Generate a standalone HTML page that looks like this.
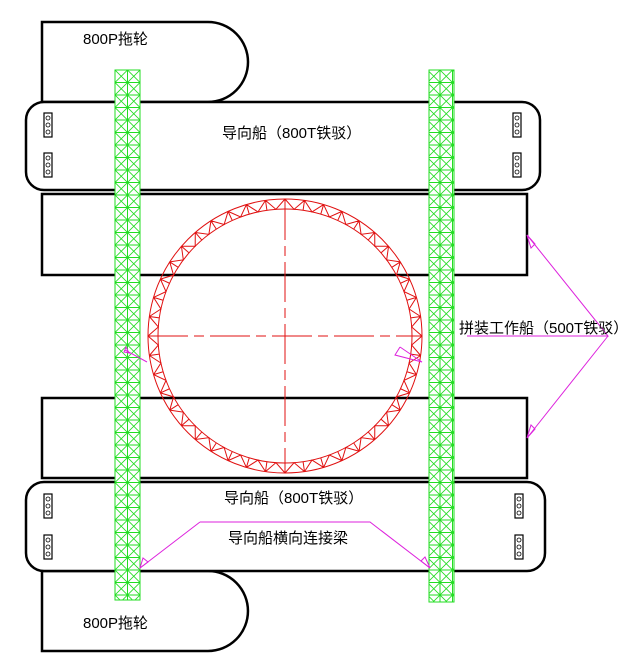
<!DOCTYPE html>
<html><head><meta charset="utf-8"><style>
body{margin:0;background:#fff}
svg{display:block}
text{font-family:"Liberation Sans","Noto Sans CJK SC",sans-serif;font-size:15px;fill:#000}
</style></head><body>
<svg id="s" width="640" height="670" viewBox="0 0 640 670" xmlns="http://www.w3.org/2000/svg">
<defs>
<pattern id="lat" x="115" y="70" width="12.5" height="12.5" patternUnits="userSpaceOnUse">
<rect width="12.5" height="12.5" fill="#fff" stroke="#22dd22" stroke-width="1"/>
<path d="M0 0L12.5 12.5M12.5 0L0 12.5" stroke="#22dd22" stroke-width="0.8"/>
</pattern>
</defs>
<g fill="#fff" stroke="#000" stroke-width="2.5">
<path d="M42 22H208A40 40 0 0 1 208 102H42Z"/>
<path d="M42 571H208A40 40 0 0 1 208 651H42Z"/>
<rect x="42" y="194" width="485" height="81"/>
<rect x="42" y="398" width="485" height="80"/>
<rect x="26" y="102" width="514" height="88" rx="18"/>
<rect x="26" y="482" width="519" height="89" rx="18"/>
</g>
<g fill="#fff" stroke="#000" stroke-width="1.2">
<rect x="44" y="113" width="8" height="24"/><rect x="44" y="153" width="8" height="24"/>
<rect x="513" y="113" width="8" height="24"/><rect x="513" y="153" width="8" height="24"/>
<rect x="44" y="494" width="8" height="24"/><rect x="44" y="535" width="8" height="24"/>
<rect x="515" y="494" width="8" height="24"/><rect x="515" y="535" width="8" height="24"/>
</g>
<g id="pins" fill="none" stroke="#000" stroke-width="0.8"></g>
<g id="ring" stroke="#e01010" stroke-width="1" fill="none">
<circle cx="285" cy="336" r="137"/><circle cx="285" cy="336" r="127"/>
<path d="M285 200V472M148 336H422" stroke-dasharray="40 6 10 6"/>
</g>
<rect x="115" y="70" width="25" height="530" fill="url(#lat)" stroke="#22dd22"/>
<rect x="429" y="70" width="25" height="532" fill="url(#lat)" stroke="#22dd22"/>
<g stroke="#dd22dd" stroke-width="1" fill="none">
<path d="M467 336H608L527 235M608 336L527 438"/>
<path d="M527 235l4 13 4-4z M527 438l4-13 4 4z"/>
<path d="M200 522H370L430 568M200 522L140 568"/>
<path d="M140 568l3-10 5 4z M430 568l-9-7 4-4z"/>
<path d="M125 350L147 362M126 347l-2 5 5 1z"/>
<path d="M400 347L422 362L395 355L400 347"/>
</g>
<text x="83" y="44">800P拖轮</text>
<text x="83" y="628">800P拖轮</text>
<text x="222" y="138">导向船（800T铁驳）</text>
<text x="224" y="503">导向船（800T铁驳）</text>
<text x="228" y="543">导向船横向连接梁</text>
<text x="459" y="333">拼装工作船（500T铁驳）</text>
</svg>
<script>
var ns="http://www.w3.org/2000/svg",r=document.getElementById("ring"),p=document.getElementById("pins");
var n=44,cx=285,cy=336,R=137,ri=127,d="";
function P(rad,t){var a=t/n*2*Math.PI;return (cx+rad*Math.cos(a)).toFixed(2)+" "+(cy+rad*Math.sin(a)).toFixed(2);}
for(var i=0;i<n;i++){
d+="M"+P(R,i)+"L"+P(ri,i)+"M"+P(R,i)+"L"+P(ri,i+0.5)+"L"+P(R,i+1);}
var e=document.createElementNS(ns,"path");e.setAttribute("d",d);r.appendChild(e);
[[48,113],[48,153],[517,113],[517,153],[48,494],[48,535],[519,494],[519,535]].forEach(function(q){for(var k=0;k<3;k++){var c=document.createElementNS(ns,"circle");c.setAttribute("cx",q[0]);c.setAttribute("cy",q[1]+5+k*7);c.setAttribute("r",2);p.appendChild(c);}});
</script>
</body></html>
